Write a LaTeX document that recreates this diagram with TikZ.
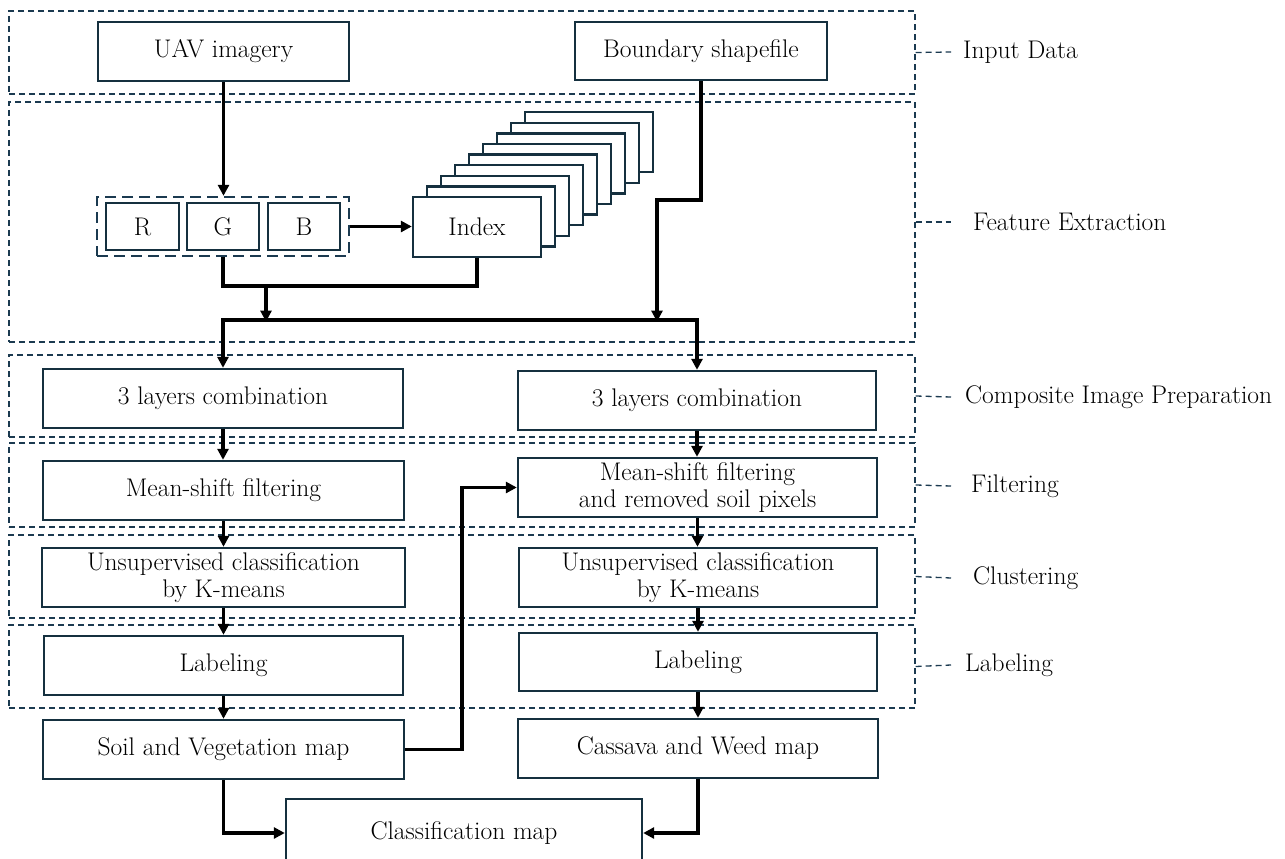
\documentclass[tikz,border=0pt]{standalone}
\usetikzlibrary{arrows.meta}
\definecolor{boxcol}{HTML}{15303F}
\definecolor{grpcol}{HTML}{1B3A50}
\tikzset{
  txt/.style={font=\fontsize{25.5}{26.5}\selectfont},
  stepbox/.style={draw=boxcol, line width=2.4pt, fill=white, align=center, inner sep=0pt, txt},
  grp/.style={draw=grpcol, line width=1.4pt, dash pattern=on 6pt off 4pt, inner sep=0pt},
  rgbgrp/.style={draw=grpcol, line width=2.4pt, dash pattern=on 11pt off 6pt, inner sep=0pt},
  arr/.style={draw=black, line width=3.2pt, -{Triangle[length=11pt,width=11pt]}},
  plain/.style={draw=black, line width=3.2pt},
  lead/.style={draw=grpcol, line width=1.3pt, dash pattern=on 6pt off 4pt},
  lbl/.style={anchor=west, inner sep=0pt, txt},
}
\begin{document}
\begin{tikzpicture}[x=1pt,y=-1pt]
\clip (0,0) rectangle (1285,859);
\fill[white] (0,0) rectangle (1285,859);

% group (stage) boxes
\node[grp, minimum width=906pt, minimum height=83pt] (gin) at (462,52.5) {};
\node[grp, minimum width=906pt, minimum height=240pt] (gfe) at (462,222) {};
\node[grp, minimum width=906pt, minimum height=82pt] (gci) at (462,396) {};
\node[grp, minimum width=906pt, minimum height=84pt] (gfi) at (462,485) {};
\node[grp, minimum width=906pt, minimum height=83pt] (gcl) at (462,576.5) {};
\node[grp, minimum width=906pt, minimum height=83pt] (glb) at (462,666.5) {};

% stage labels
\node[lbl] (lin) at (963,52) {Input Data};
\node[lbl] (lfe) at (973,222) {Feature Extraction};
\node[lbl] (lci) at (965,397) {Composite Image Preparation};
\node[lbl] (lfi) at (971,486) {Filtering};
\node[lbl] (lcl) at (973,578) {Clustering};
\node[lbl] (llb) at (965,665) {Labeling};
\draw[lead] (gin.east) -- ([xshift=-12pt]lin.west);
\draw[lead] (gfe.east) -- ([xshift=-22pt]lfe.west);
\draw[lead] (gci.east) -- ([xshift=-14pt]lci.west);
\draw[lead] (gfi.east) -- ([xshift=-20pt]lfi.west);
\draw[lead] (gcl.east) -- ([xshift=-22pt]lcl.west);
\draw[lead] (glb.east) -- ([xshift=-14pt]llb.west);

% input boxes
\node[stepbox, minimum width=251pt, minimum height=59pt] (uav) at (223.5,51.5) {UAV imagery};
\node[stepbox, minimum width=252pt, minimum height=58pt] (bsf) at (701,51) {Boundary shapefile};

% RGB group
\node[rgbgrp, minimum width=252pt, minimum height=59pt] (rgb) at (223,226.5) {};
\node[stepbox, minimum width=73pt, minimum height=47pt] (r) at (142.5,226.5) {R};
\node[stepbox, minimum width=72pt, minimum height=47pt] (g) at (223,226.5) {G};
\node[stepbox, minimum width=72pt, minimum height=47pt] (b) at (304,226.5) {B};

% index stack
\foreach \k in {8,7,...,1}{
  \node[stepbox, minimum width=128pt, minimum height=60pt] (st\k) at ({477+14*\k},{227-10.6*\k}) {};
}
\node[stepbox, minimum width=128pt, minimum height=60pt] (idx) at (477,227) {Index};

% left column
\node[stepbox, minimum width=360pt, minimum height=59pt] (comb1) at (223,398.5) {3 layers combination};
\node[stepbox, minimum width=361pt, minimum height=59pt] (ms1) at (223.5,490.5) {Mean-shift filtering};
\node[stepbox, minimum width=363pt, minimum height=59pt] (km1) at (223.5,577.5) {Unsupervised classification\\by K-means};
\node[stepbox, minimum width=359pt, minimum height=59pt] (lab1) at (223.5,665.5) {Labeling};
\node[stepbox, minimum width=361pt, minimum height=59pt] (svm) at (223.5,749.5) {Soil and Vegetation map};

% right column
\node[stepbox, minimum width=358pt, minimum height=59pt] (comb2) at (697,400.5) {3 layers combination};
\node[stepbox, minimum width=359pt, minimum height=59pt] (ms2) at (697.5,487.5) {Mean-shift filtering\\and removed soil pixels};
\node[stepbox, minimum width=358pt, minimum height=59pt] (km2) at (698,577.5) {Unsupervised classification\\by K-means};
\node[stepbox, minimum width=358pt, minimum height=58pt] (lab2) at (698,662) {Labeling};
\node[stepbox, minimum width=360pt, minimum height=59pt] (cwm) at (698,748.5) {Cassava and Weed map};

% output
\node[stepbox, minimum width=356pt, minimum height=68pt] (cls) at (464,833) {Classification map};

% coordinates for junctions
\coordinate (gj) at (223,286);
\coordinate (mj) at (266,286);
\coordinate (mb) at (266,320);
\coordinate (jl) at (223,320);
\coordinate (jr) at (697,320);
\coordinate (bj) at (657,200);
\coordinate (sv) at (462,749.5);

% connectors
\draw[arr] (uav.south) -- (uav.south |- rgb.north);
\draw[arr] (rgb.east) -- (idx.west |- rgb.east);
\draw[plain] (rgb.south) -- (gj) -| (idx.south);
\draw[arr] (mj) -- ([yshift=-1.6pt]mb);
\draw[plain, line cap=rect] (jl) -- (jr);
\draw[arr] (bsf.south) |- (bj) -- ([yshift=-1.6pt]bj |- jr);
\draw[arr] (jl) -- (jl |- comb1.north);
\draw[arr] (jr) -- (jr |- comb2.north);

\draw[arr] (comb1.south) -- (comb1.south |- ms1.north);
\draw[arr] (ms1.south) -- (ms1.south |- km1.north);
\draw[arr] (km1.south) -- (km1.south |- lab1.north);
\draw[arr] (lab1.south) -- (lab1.south |- svm.north);

\draw[arr] (comb2.south) -- (comb2.south |- ms2.north);
\draw[arr] (ms2.south) -- (ms2.south |- km2.north);
\draw[arr] (km2.south) -- (km2.south |- lab2.north);
\draw[arr] (lab2.south) -- (lab2.south |- cwm.north);

\draw[arr] (svm.east) -- (sv) |- (ms2.west);
\draw[arr] (svm.south) |- (cls.west);
\draw[arr] (cwm.south) |- (cls.east);
\end{tikzpicture}
\end{document}
